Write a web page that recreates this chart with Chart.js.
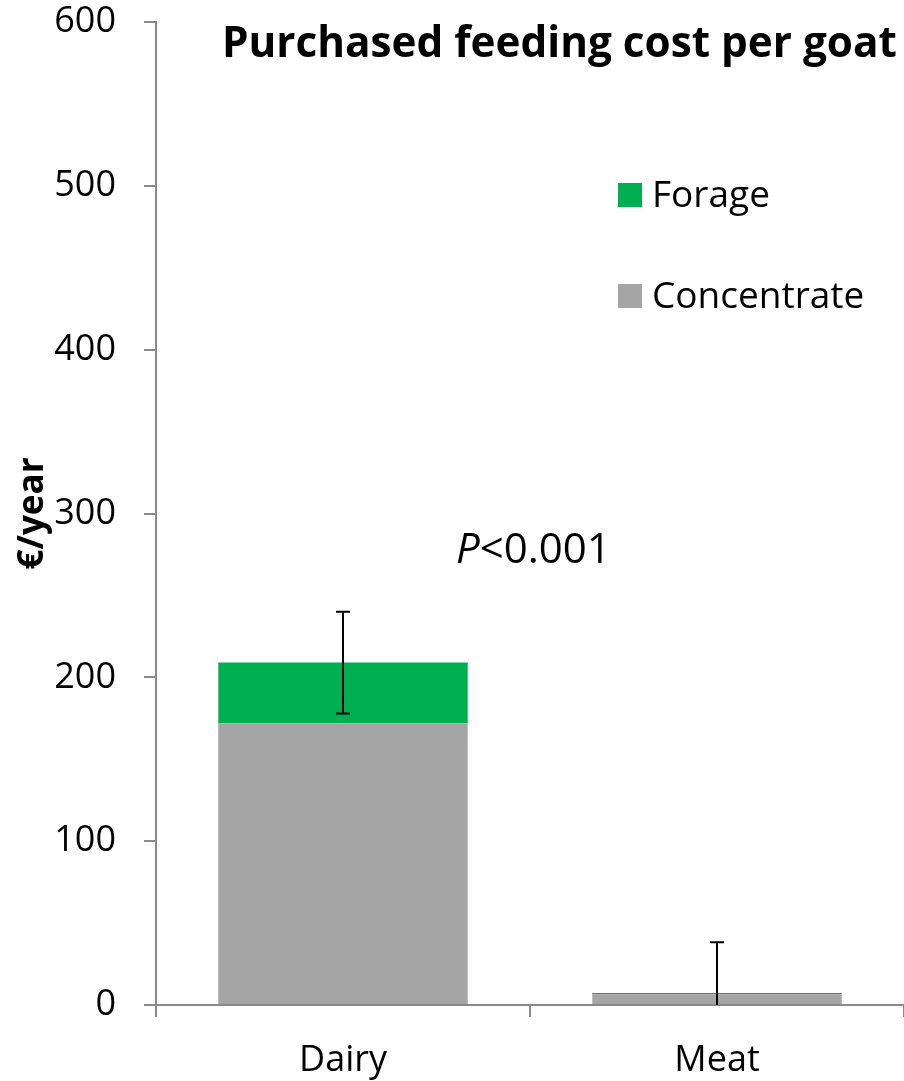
<!DOCTYPE html>
<html>
<head>
<meta charset="utf-8">
<title>Purchased feeding cost per goat</title>
<script src="https://cdn.jsdelivr.net/npm/chart.js@4/dist/chart.umd.min.js"></script>
<style>
  html, body { margin: 0; padding: 0; background: #fff; }
  #wrap { width: 904px; height: 1081px; position: relative; }
</style>
</head>
<body>
<div id="wrap"><canvas id="costChart" width="904" height="1081"></canvas></div>
<script>
/* ---------- Data ---------- */
const categories = ['Dairy', 'Meat'];
const concentrate = [172, 6.5];
const forage = [37, 0.8];
const errors = [31, 31];
const yTicks = [0, 100, 200, 300, 400, 500, 600];

const FONT = '"Open Sans", "Noto Sans", sans-serif';
const GREEN = '#00b050';
const GREY = '#a5a5a5';
const AXIS = '#8a8a8a';

/* ---------- Error bars on stacked totals ---------- */
const errorBars = {
  id: 'errorBars',
  afterDatasetsDraw(chart) {
    const { ctx, scales: { x, y } } = chart;
    ctx.save();
    ctx.strokeStyle = '#000';
    ctx.lineWidth = 2;
    categories.forEach((_, i) => {
      const total = concentrate[i] + forage[i];
      const px = x.getPixelForValue(i);
      const top = y.getPixelForValue(total + errors[i]);
      const low = Math.max(0, total - errors[i]);
      const bottom = y.getPixelForValue(low);
      ctx.beginPath();
      ctx.moveTo(px, top);
      ctx.lineTo(px, bottom);
      ctx.moveTo(px - 7, top);
      ctx.lineTo(px + 7, top);
      if (low > 0) {
        ctx.moveTo(px - 7, bottom);
        ctx.lineTo(px + 7, bottom);
      }
      ctx.stroke();
    });
    ctx.restore();
  },
};

/* ---------- Title, legend and annotation ---------- */
const extras = {
  id: 'extras',
  afterDraw(chart) {
    const { ctx } = chart;
    ctx.save();
    ctx.fillStyle = '#000';
    ctx.textBaseline = 'alphabetic';

    // title, fitted to the reference width
    const title = 'Purchased feeding cost per goat';
    let size = 40;
    ctx.font = `bold ${size}px ${FONT}`;
    size = size * 675 / ctx.measureText(title).width;
    ctx.font = `bold ${size}px ${FONT}`;
    ctx.textAlign = 'left';
    ctx.fillText(title, 222, 57);

    // legend
    const items = [
      { label: 'Forage', color: GREEN, y: 183 },
      { label: 'Concentrate', color: GREY, y: 284 },
    ];
    ctx.font = `37px ${FONT}`;
    ctx.textBaseline = 'middle';
    items.forEach((it) => {
      ctx.fillStyle = it.color;
      ctx.fillRect(618, it.y, 24, 24);
      ctx.fillStyle = '#000';
      ctx.fillText(it.label, 652, it.y + 13);
    });

    // P value
    ctx.textBaseline = 'alphabetic';
    ctx.font = `italic 42px ${FONT}`;
    ctx.fillText('P', 456, 563);
    const pw = ctx.measureText('P').width;
    ctx.font = `42px ${FONT}`;
    ctx.fillText('<0.001', 456 + pw, 563);
    ctx.restore();
  },
};

/* ---------- Chart ---------- */
new Chart(document.getElementById('costChart'), {
  type: 'bar',
  data: {
    labels: categories,
    datasets: [
      { label: 'Concentrate', data: concentrate, backgroundColor: GREY, borderWidth: 0 },
      { label: 'Forage', data: forage, backgroundColor: GREEN, borderWidth: 0 },
    ],
  },
  options: {
    responsive: false,
    devicePixelRatio: 1,
    animation: false,
    layout: { padding: { top: 22, right: 0, left: 0, bottom: 0 } },
    datasets: { bar: { categoryPercentage: 1, barPercentage: 0.667 } },
    plugins: {
      legend: { display: false },
      title: { display: false },
      tooltip: { enabled: false },
    },
    scales: {
      x: {
        stacked: true,
        grid: { drawOnChartArea: false, drawTicks: true, tickLength: 12, color: AXIS, lineWidth: 2, offset: true },
        border: { color: AXIS, width: 2 },
        ticks: { color: '#000', font: { family: FONT, size: 36 }, padding: 22 },
        afterFit: (s) => { s.height = 76; s.paddingLeft = 0; s.paddingRight = 0; },
      },
      y: {
        stacked: true,
        min: 0,
        max: 600,
        afterBuildTicks: (s) => { s.ticks = yTicks.map((v) => ({ value: v })); },
        grid: { drawOnChartArea: false, drawTicks: true, tickLength: 12, color: AXIS, lineWidth: 2 },
        border: { color: AXIS, width: 2 },
        ticks: { color: '#000', font: { family: FONT, size: 36 }, padding: 28 },
        title: {
          display: true,
          text: '€/year',
          color: '#000',
          font: { family: FONT, size: 35, weight: 'bold' },
          padding: { top: 12, bottom: 0 },
        },
        afterFit: (s) => { s.width = 156; s.paddingTop = 0; s.paddingBottom = 0; },
      },
    },
  },
  plugins: [errorBars, extras],
});
</script>
</body>
</html>
